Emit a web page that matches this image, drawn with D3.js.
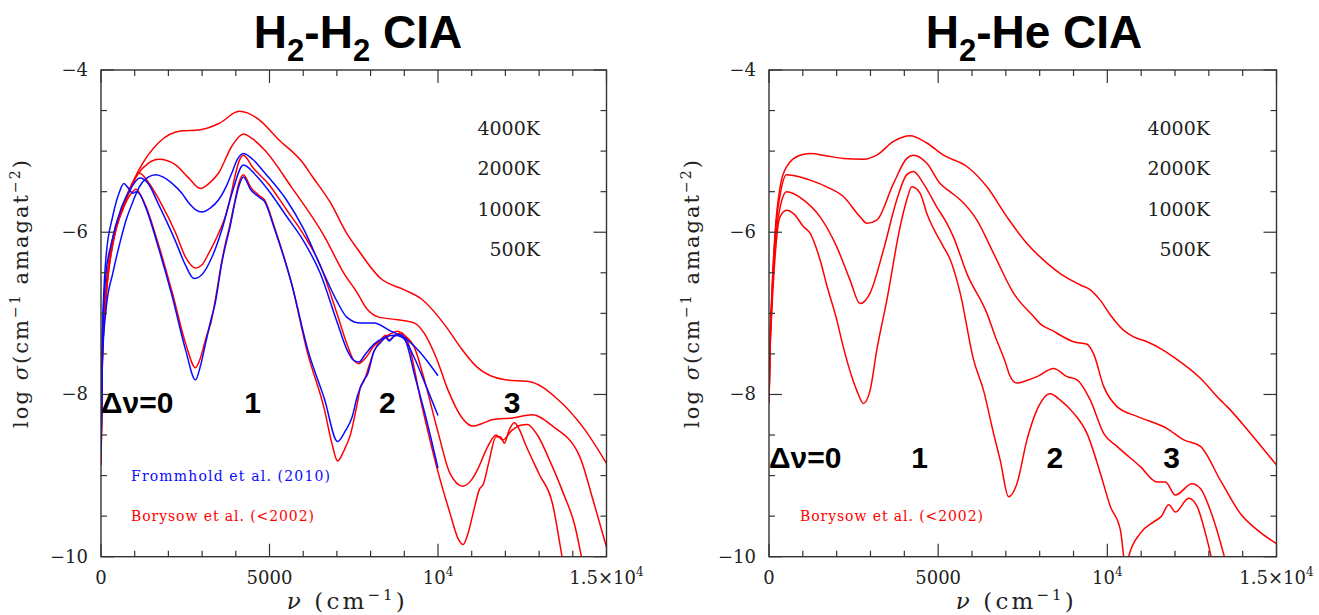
<!DOCTYPE html>
<html>
<head>
<meta charset="utf-8">
<script src="https://cdn.jsdelivr.net/npm/d3@7/dist/d3.min.js"></script>
<style>
  html, body { margin: 0; padding: 0; background: #fff; }
  svg { display: block; }
</style>
</head>
<body>
<svg id="chart" width="1319" height="615"></svg>
<script>
// Collision-induced absorption, log sigma (cm^-1 amagat^-2) vs wavenumber nu (cm^-1)
// Each series: [nu, log sigma]

// H2-H2, Borysow et al. (<2002)
const h2h2Bor4000 = [[0,-8.87],[40,-7.5],[120,-6.85],[250,-6.3],[400,-5.98],[700,-5.62],[1100,-5.25],[1700,-4.9],[2400,-4.75],[2900,-4.74],[3500,-4.66],[4100,-4.51],[4650,-4.6],[5250,-4.85],[6000,-5.15],[6250,-5.3],[6800,-5.63],[7300,-6.02],[7600,-6.2],[8300,-6.57],[9000,-6.71],[9500,-6.82],[10250,-7.17],[10650,-7.41],[11150,-7.66],[12000,-7.82],[12700,-7.84],[13500,-8.04],[14350,-8.43],[15000,-8.85]];
const h2h2Bor2000 = [[0,-8.87],[40,-7.55],[120,-6.9],[250,-6.35],[400,-6.02],[700,-5.65],[1100,-5.28],[1400,-5.15],[1725,-5.1],[2216,-5.17],[2600,-5.33],[2950,-5.46],[3200,-5.4],[3490,-5.27],[3882,-4.94],[4225,-4.79],[4500,-4.85],[4863,-4.99],[5647,-5.44],[6627,-6.05],[7200,-6.5],[7608,-6.75],[7900,-6.95],[8200,-7.04],[8800,-7.08],[9300,-7.12],[9600,-7.25],[9950,-7.55],[10300,-7.95],[10700,-8.28],[11040,-8.39],[11300,-8.36],[11630,-8.31],[12200,-8.29],[12800,-8.25],[13400,-8.39],[14200,-8.76],[14600,-9.3],[15000,-9.88]];
const h2h2Bor1000 = [[0,-8.87],[40,-7.6],[120,-6.95],[250,-6.4],[400,-6.05],[700,-5.62],[900,-5.42],[1137,-5.27],[1400,-5.38],[1725,-5.6],[2216,-6.01],[2500,-6.3],[2804,-6.44],[3000,-6.4],[3196,-6.26],[3450,-6.05],[3686,-5.81],[3850,-5.55],[3980,-5.3],[4100,-5.12],[4225,-5.05],[4500,-5.2],[5000,-5.42],[5500,-5.72],[6000,-6.02],[6500,-6.4],[7000,-7.0],[7300,-7.38],[7500,-7.58],[7650,-7.62],[7850,-7.55],[8100,-7.4],[8400,-7.3],[8600,-7.25],[8800,-7.22],[9000,-7.27],[9300,-7.42],[9570,-7.78],[10010,-8.48],[10353,-8.97],[10735,-9.13],[11000,-9.05],[11168,-8.93],[11480,-8.64],[11724,-8.5],[11920,-8.56],[12200,-8.44],[12450,-8.38],[12650,-8.37],[12950,-8.5],[13300,-8.8],[13750,-9.25],[14050,-9.6],[14280,-10.05]];
const h2h2Bor500 = [[0,-8.87],[40,-7.6],[150,-6.8],[350,-6.15],[650,-5.72],[900,-5.52],[1039,-5.47],[1200,-5.56],[1333,-5.68],[1726,-6.18],[2118,-6.75],[2510,-7.37],[2804,-7.67],[2950,-7.55],[3098,-7.33],[3196,-7.2],[3260,-7.12],[3392,-6.83],[3588,-6.35],[3686,-6.15],[3830,-5.9],[3980,-5.6],[4100,-5.38],[4225,-5.29],[4450,-5.45],[4700,-5.55],[4850,-5.6],[5157,-5.95],[5647,-6.62],[6137,-7.5],[6627,-8.18],[6850,-8.6],[7020,-8.82],[7200,-8.7],[7412,-8.48],[7600,-8.12],[7706,-7.9],[7800,-7.84],[7900,-7.72],[8098,-7.47],[8300,-7.33],[8450,-7.27],[8550,-7.33],[8700,-7.28],[8900,-7.24],[9100,-7.35],[9500,-8.1],[10010,-8.97],[10353,-9.46],[10600,-9.78],[10745,-9.85],[10900,-9.7],[11050,-9.45],[11229,-9.17],[11350,-9.1],[11500,-8.85],[11724,-8.52],[11850,-8.52],[11971,-8.6],[12100,-8.45],[12265,-8.35],[12400,-8.42],[12600,-8.62],[13000,-8.98],[13400,-9.35],[13640,-9.9],[13700,-10.05]];

// H2-H2, Frommhold et al. (2010)
const h2h2FrmA = [[0,-8.72],[40,-7.6],[150,-6.95],[353,-6.5],[550,-6.15],[745,-5.85],[950,-5.62],[1137,-5.44],[1400,-5.32],[1627,-5.29],[1850,-5.32],[2118,-5.4],[2400,-5.52],[2608,-5.64],[2800,-5.72],[3000,-5.75],[3250,-5.7],[3490,-5.6],[3700,-5.45],[3882,-5.27],[4050,-5.1],[4225,-5.03],[4500,-5.1],[4863,-5.27],[5500,-5.6],[6000,-5.95],[6600,-6.5],[7000,-6.85],[7300,-7.05],[7700,-7.12],[8100,-7.12],[8600,-7.22],[9000,-7.3],[9400,-7.45],[9700,-7.6],[10000,-7.77]];
const h2h2FrmB = [[0,-8.72],[40,-7.3],[150,-6.5],[300,-6.15],[600,-5.7],[900,-5.45],[1150,-5.33],[1400,-5.4],[1700,-5.65],[2200,-6.1],[2500,-6.4],[2755,-6.57],[3000,-6.52],[3300,-6.3],[3600,-5.95],[3900,-5.5],[4225,-5.17],[4600,-5.3],[5000,-5.5],[5500,-5.8],[6000,-6.1],[6500,-6.5],[7000,-7.1],[7300,-7.45],[7500,-7.58],[7650,-7.6],[7850,-7.5],[8100,-7.38],[8400,-7.3],[8700,-7.27],[8950,-7.3],[9300,-7.55],[9650,-7.9],[10000,-8.26]];
const h2h2FrmC = [[0,-8.72],[40,-7.3],[150,-6.3],[350,-5.8],[550,-5.5],[676,-5.4],[800,-5.45],[950,-5.52],[1039,-5.5],[1150,-5.53],[1333,-5.7],[1726,-6.22],[2118,-6.8],[2510,-7.45],[2804,-7.82],[2950,-7.65],[3098,-7.38],[3250,-7.1],[3392,-6.87],[3588,-6.37],[3686,-6.18],[3830,-5.93],[3980,-5.62],[4100,-5.42],[4225,-5.32],[4450,-5.48],[4700,-5.57],[4850,-5.62],[5157,-5.97],[5647,-6.62],[6137,-7.45],[6627,-8.05],[7020,-8.58],[7250,-8.45],[7450,-8.28],[7608,-8.02],[7804,-7.82],[7900,-7.76],[8098,-7.47],[8300,-7.36],[8450,-7.3],[8550,-7.34],[8700,-7.28],[8900,-7.26],[9050,-7.35],[9300,-7.75],[9650,-8.3],[10000,-8.91]];

// H2-He, Borysow et al. (<2002)
const h2heBor4000 = [[0,-8.1],[30,-7.35],[80,-6.8],[180,-6.0],[325,-5.45],[523,-5.19],[917,-5.05],[1213,-5.03],[1706,-5.06],[2199,-5.09],[2791,-5.1],[3186,-5.05],[3678,-4.88],[4172,-4.81],[4665,-4.9],[5157,-5.05],[5849,-5.19],[6441,-5.44],[7033,-5.81],[7624,-6.14],[8216,-6.38],[8609,-6.51],[9200,-6.65],[9497,-6.71],[9793,-6.84],[10089,-7.02],[10483,-7.21],[10778,-7.29],[11174,-7.35],[11600,-7.44],[11962,-7.54],[12751,-7.8],[13343,-8.07],[13541,-8.15],[14231,-8.48],[15000,-8.87]];
const h2heBor2000 = [[0,-8.1],[30,-7.4],[80,-6.85],[180,-6.05],[325,-5.55],[523,-5.29],[917,-5.32],[1300,-5.37],[1706,-5.44],[2199,-5.56],[2692,-5.81],[2890,-5.89],[3186,-5.85],[3678,-5.4],[4073,-5.09],[4270,-5.05],[4665,-5.15],[5059,-5.4],[5350,-5.5],[5651,-5.6],[6145,-5.85],[6637,-6.26],[7228,-6.75],[7820,-7.04],[8018,-7.13],[8411,-7.22],[8609,-7.27],[9003,-7.35],[9400,-7.38],[9595,-7.5],[9891,-7.9],[10287,-8.15],[10878,-8.27],[11766,-8.42],[12258,-8.56],[12751,-8.64],[13343,-9.06],[13935,-9.47],[14429,-9.67],[15000,-9.84]];
const h2heBor1000 = [[0,-8.1],[30,-7.45],[80,-6.9],[180,-6.15],[325,-5.7],[523,-5.5],[1016,-5.6],[1509,-5.81],[2003,-6.18],[2396,-6.59],[2692,-6.88],[2988,-6.75],[3382,-6.22],[3777,-5.6],[4073,-5.29],[4270,-5.25],[4565,-5.4],[4961,-5.69],[5257,-5.89],[5453,-6.06],[5849,-6.51],[6441,-7.0],[6700,-7.3],[7000,-7.62],[7100,-7.75],[7328,-7.86],[7600,-7.83],[7920,-7.78],[8412,-7.68],[8807,-7.78],[9103,-7.82],[9497,-8.07],[9891,-8.48],[10287,-8.64],[10976,-8.89],[11470,-9.08],[11716,-9.08],[12012,-9.24],[12505,-9.1],[12751,-9.16],[13146,-9.55],[13491,-10.05]];
const h2heBor500 = [[0,-8.1],[30,-7.5],[80,-7.0],[180,-6.3],[325,-5.81],[523,-5.73],[750,-5.78],[1016,-5.93],[1213,-6.01],[1509,-6.34],[1706,-6.65],[2003,-7.08],[2199,-7.42],[2594,-7.95],[2791,-8.11],[2988,-7.95],[3186,-7.45],[3482,-6.84],[3876,-5.93],[4073,-5.6],[4221,-5.44],[4467,-5.52],[4665,-5.77],[5157,-6.18],[5350,-6.33],[5651,-6.75],[6045,-7.57],[6341,-7.95],[6637,-8.48],[6834,-8.81],[7081,-9.26],[7328,-9.1],[7624,-8.56],[7920,-8.19],[8314,-7.99],[8609,-8.07],[9003,-8.23],[9398,-8.48],[9793,-8.97],[10089,-9.38],[10385,-9.67],[10483,-10.0],[10560,-10.3],[10630,-10.0],[10976,-9.71],[11370,-9.57],[11600,-9.5],[11815,-9.36],[12012,-9.45],[12406,-9.28],[12653,-9.38],[12899,-9.71],[13097,-10.05]];

// Labels
const tempLabels = ["4000K", "2000K", "1000K", "500K"];
const bandLabelsH2H2 = [["\u0394\u03bd=0", 0], ["1", 4500], ["2", 8500], ["3", 12200]];
const bandLabelsH2He = [["\u0394\u03bd=0", 0], ["1", 4450], ["2", 8450], ["3", 11900]];
const yTickLabels = [[-4, "\u22124"], [-6, "\u22126"], [-8, "\u22128"], [-10, "\u221210"]];
const xTickLabels = [[0, "0", ""], [5000, "5000", ""], [10000, "10", "4"], [15000, "1.5\u00d710", "4"]];
const legendFrm = "Frommhold et al. (2010)";
const legendBor = "Borysow et al. (<2002)";

const RED = "#ff0000", BLUE = "#0a0aff", INK = "#222";
const serif = '"DejaVu Serif", "Liberation Serif", serif';
const sans = '"Liberation Sans", Arial, sans-serif';

const svg = d3.select("#chart");

const panels = [
  { id: "h2h2", x0: 101, x1: 606.5, titleParts: ["H", ["2"], "-H", ["2"], " CIA"], titleX: 358,
    red: [h2h2Bor4000, h2h2Bor2000, h2h2Bor1000, h2h2Bor500], blue: [h2h2FrmA, h2h2FrmB, h2h2FrmC],
    bands: bandLabelsH2H2, bandY: 413, tempX: 540,
    legend: [[legendFrm, BLUE, 481, 199], [legendBor, RED, 521, 183]], legendX: 131, yTitleX: 28 },
  { id: "h2he", x0: 769, x1: 1276.5, titleParts: ["H", ["2"], "-He CIA"], titleX: 1034,
    red: [h2heBor4000, h2heBor2000, h2heBor1000, h2heBor500], blue: [],
    bands: bandLabelsH2He, bandY: 468, tempX: 1210,
    legend: [[legendBor, RED, 521, 183]], legendX: 800, yTitleX: 699 }
];

const yTop = 70, yBot = 556.7;

panels.forEach(p => {
  const x = d3.scaleLinear().domain([0, 15000]).range([p.x0, p.x1]);
  const y = d3.scaleLinear().domain([-10, -4]).range([yBot, yTop]);
  const g = svg.append("g");

  // clip region for the curves
  svg.append("clipPath").attr("id", "clip-" + p.id)
    .append("rect").attr("x", p.x0).attr("y", yTop).attr("width", p.x1 - p.x0).attr("height", yBot - yTop);

  const line = d3.line().x(d => x(d[0])).y(d => y(d[1])).curve(d3.curveMonotoneX);
  const curves = g.append("g").attr("clip-path", `url(#clip-${p.id})`);
  p.red.forEach(s => curves.append("path").attr("d", line(s))
    .attr("fill", "none").attr("stroke", RED).attr("stroke-width", 1.5).attr("stroke-linejoin", "round"));
  p.blue.forEach(s => curves.append("path").attr("d", line(s))
    .attr("fill", "none").attr("stroke", BLUE).attr("stroke-width", 1.5).attr("stroke-linejoin", "round"));

  // frame
  g.append("rect").attr("x", p.x0).attr("y", yTop).attr("width", p.x1 - p.x0).attr("height", yBot - yTop)
    .attr("fill", "none").attr("stroke", "#333").attr("stroke-width", 1.4);

  // ticks on all four sides, pointing inward
  const xt = d3.range(0, 15001, 1000);
  xt.forEach(v => {
    const len = v % 5000 === 0 ? 13 : 6;
    g.append("line").attr("x1", x(v)).attr("x2", x(v)).attr("y1", yBot).attr("y2", yBot - len).attr("stroke", "#333").attr("stroke-width", 1.2);
    g.append("line").attr("x1", x(v)).attr("x2", x(v)).attr("y1", yTop).attr("y2", yTop + len).attr("stroke", "#333").attr("stroke-width", 1.2);
  });
  const yt = d3.range(-10, -3.99, 0.5);
  yt.forEach(v => {
    const len = Math.abs(v % 2) < 1e-6 ? 13 : 6;
    g.append("line").attr("x1", p.x0).attr("x2", p.x0 + len).attr("y1", y(v)).attr("y2", y(v)).attr("stroke", "#333").attr("stroke-width", 1.2);
    g.append("line").attr("x1", p.x1).attr("x2", p.x1 - len).attr("y1", y(v)).attr("y2", y(v)).attr("stroke", "#333").attr("stroke-width", 1.2);
  });

  // tick labels
  yTickLabels.forEach(([v, t]) => {
    g.append("text").attr("x", p.x0 - 13).attr("y", y(v) + 6).attr("text-anchor", "end")
      .attr("font-family", serif).attr("font-size", 18).attr("fill", INK).text(t);
  });
  xTickLabels.forEach(([v, t, sup]) => {
    const tx = g.append("text").attr("x", x(v)).attr("y", 584).attr("text-anchor", "middle")
      .attr("font-family", serif).attr("font-size", 18).attr("fill", INK);
    tx.append("tspan").text(t);
    if (sup) tx.append("tspan").attr("font-size", 12).attr("dy", -8).text(sup);
  });

  // axis titles
  const xl = g.append("text").attr("x", (p.x0 + p.x1) / 2 - 8).attr("y", 609).attr("text-anchor", "middle")
    .attr("font-family", serif).attr("font-size", 23).attr("fill", INK)
    .attr("textLength", 118).attr("lengthAdjust", "spacing");
  xl.append("tspan").attr("font-style", "italic").text("\u03bd");
  xl.append("tspan").text("  (cm");
  xl.append("tspan").attr("font-size", 15).attr("dy", -9).text("\u22121");
  xl.append("tspan").attr("dy", 9).text(")");

  const yl = g.append("text").attr("transform", `translate(${p.yTitleX},294) rotate(-90)`)
    .attr("text-anchor", "middle").attr("font-family", serif).attr("font-size", 21).attr("fill", INK)
    .attr("textLength", 268).attr("lengthAdjust", "spacing");
  yl.append("tspan").text("log ");
  yl.append("tspan").attr("font-style", "italic").text("\u03c3");
  yl.append("tspan").text("(cm");
  yl.append("tspan").attr("font-size", 14).attr("dy", -8).text("\u22121");
  yl.append("tspan").attr("dy", 8).text(" amagat");
  yl.append("tspan").attr("font-size", 14).attr("dy", -8).text("\u22122");
  yl.append("tspan").attr("dy", 8).text(")");

  // title
  const tt = svg.append("text").attr("x", p.titleX).attr("y", 48).attr("text-anchor", "middle")
    .attr("font-family", sans).attr("font-weight", "bold").attr("font-size", 46).attr("fill", "#000");
  let down = false;
  p.titleParts.forEach(part => {
    if (Array.isArray(part)) {
      tt.append("tspan").attr("font-size", 31).attr("dy", 13).text(part[0]);
      down = true;
    } else {
      const ts = tt.append("tspan").text(part);
      if (down) { ts.attr("dy", -13); down = false; }
    }
  });

  // vibrational band labels
  p.bands.forEach(([t, v], i) => {
    g.append("text").attr("x", i === 0 ? p.x0 : x(v)).attr("y", p.bandY)
      .attr("text-anchor", i === 0 ? "start" : "middle")
      .attr("font-family", sans).attr("font-weight", "bold").attr("font-size", 30).attr("fill", "#000").text(t);
  });

  // temperature labels
  tempLabels.forEach((t, i) => {
    g.append("text").attr("x", p.tempX).attr("y", 135 + i * 40.3).attr("text-anchor", "end")
      .attr("font-family", serif).attr("font-size", 19).attr("fill", INK).text(t);
  });

  // source legend
  p.legend.forEach(([t, c, yy, w]) => {
    g.append("text").attr("x", p.legendX).attr("y", yy)
      .attr("font-family", serif).attr("font-size", 14).attr("fill", c)
      .attr("textLength", w).attr("lengthAdjust", "spacing").text(t);
  });
});
</script>
</body>
</html>
